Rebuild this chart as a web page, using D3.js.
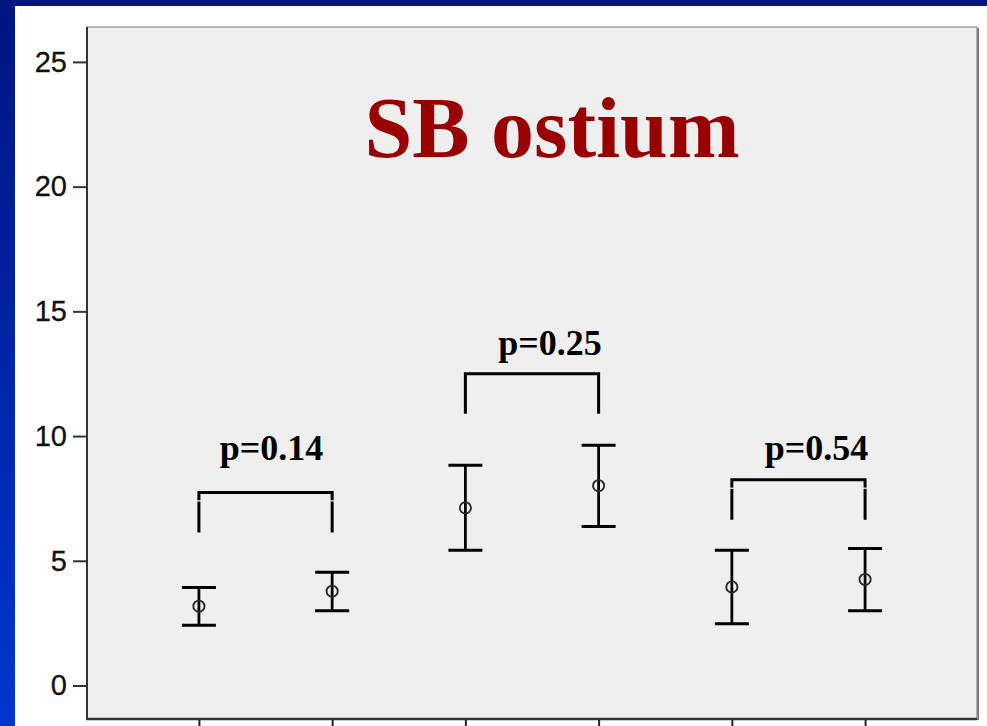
<!DOCTYPE html>
<html>
<head>
<meta charset="utf-8">
<script src="https://cdn.jsdelivr.net/npm/d3@7"></script>
<style>
  html, body { margin: 0; padding: 0; background: #ffffff; }
  svg { display: block; }
</style>
</head>
<body>
<svg id="chart" width="987" height="726"></svg>
<script>
// Groups along the x axis (two measurements per comparison)
const categories = ["A1", "A2", "B1", "B2", "C1", "C2"];
// Mean and 95% CI bounds per group
const means = [3.18, 3.78, 7.12, 8.01, 3.95, 4.25];
const lower = [2.42, 3.00, 5.42, 6.37, 2.48, 3.00];
const upper = [3.93, 4.54, 8.83, 9.63, 5.42, 5.49];
const yTicks = [0, 5, 10, 15, 20, 25];

// Pairwise comparisons
const pairs = [["A1", "A2"], ["B1", "B2"], ["C1", "C2"]];
const pLabels = ["p=0.14", "p=0.25", "p=0.54"];
const bracketLevel = [7.74, 12.5, 8.25];
const labelLevel = [9.05, 13.26, 9.05];
const legBreak = [true, false, true];

const titleText = "SB ostium";

const svg = d3.select("#chart");
const W = 987, H = 726;

// Slide frame: navy top band and blue side band
const defs = svg.append("defs");
const grad = defs.append("linearGradient")
  .attr("id", "sideBand").attr("x1", 0).attr("y1", 0).attr("x2", 0).attr("y2", 1);
grad.append("stop").attr("offset", "0%").attr("stop-color", "#001580");
grad.append("stop").attr("offset", "100%").attr("stop-color", "#0036d0");
svg.append("rect").attr("x", 0).attr("y", 0).attr("width", 15).attr("height", H).attr("fill", "url(#sideBand)");
svg.append("rect").attr("x", 0).attr("y", 0).attr("width", W).attr("height", 6).attr("fill", "#001580");

// Plot panel
const panel = { left: 87, top: 27, right: 977, bottom: 719 };

const x = d3.scalePoint()
  .domain(categories)
  .range([panel.left, panel.right])
  .padding(0.84);

const y = d3.scaleLinear()
  .domain([-1.343, 26.40])
  .range([panel.bottom, panel.top]);

// Panel background with a grey frame and slight shadow on the right
svg.append("rect")
  .attr("x", panel.left + 2).attr("y", panel.top + 1)
  .attr("width", panel.right - panel.left).attr("height", panel.bottom - panel.top)
  .attr("fill", "#777");
svg.append("rect")
  .attr("x", panel.left).attr("y", panel.top)
  .attr("width", panel.right - panel.left).attr("height", panel.bottom - panel.top)
  .attr("fill", "#efefef")
  .attr("stroke", "#8a8a8a").attr("stroke-width", 1.2);

// Y axis
const yAxis = d3.axisLeft(y)
  .tickValues(yTicks)
  .tickSize(14)
  .tickPadding(6);
const gy = svg.append("g")
  .attr("transform", `translate(${panel.left},0)`)
  .call(yAxis);
gy.select(".domain").remove();
gy.selectAll(".tick line").attr("stroke", "#333").attr("stroke-width", 2);
gy.selectAll(".tick text")
  .attr("fill", "#111")
  .style("font-family", "'Liberation Sans', Arial, sans-serif")
  .style("font-size", "29px")
  .attr("stroke", "#111").attr("stroke-width", 0.3);
svg.append("line")
  .attr("x1", panel.left).attr("x2", panel.left)
  .attr("y1", panel.top).attr("y2", panel.bottom + 1)
  .attr("stroke", "#333").attr("stroke-width", 2);

// X axis: tick marks only
const xAxis = d3.axisBottom(x).tickSize(10).tickFormat("");
const gx = svg.append("g")
  .attr("transform", `translate(0,${panel.bottom})`)
  .call(xAxis);
gx.select(".domain").remove();
gx.selectAll(".tick line").attr("stroke", "#222").attr("stroke-width", 2);
svg.append("line")
  .attr("x1", panel.left - 1).attr("x2", panel.right)
  .attr("y1", panel.bottom).attr("y2", panel.bottom)
  .attr("stroke", "#333").attr("stroke-width", 2.5);

// Error bars
const capHalf = 17;
const bars = svg.append("g").selectAll("g")
  .data(categories.map((c, i) => ({ c, m: means[i], lo: lower[i], hi: upper[i] })))
  .join("g");
bars.append("line")
  .attr("x1", d => x(d.c)).attr("x2", d => x(d.c))
  .attr("y1", d => y(d.hi)).attr("y2", d => y(d.lo))
  .attr("stroke", "#000").attr("stroke-width", 2.8);
bars.append("line")
  .attr("x1", d => x(d.c) - capHalf).attr("x2", d => x(d.c) + capHalf)
  .attr("y1", d => y(d.hi)).attr("y2", d => y(d.hi))
  .attr("stroke", "#000").attr("stroke-width", 3);
bars.append("line")
  .attr("x1", d => x(d.c) - capHalf).attr("x2", d => x(d.c) + capHalf)
  .attr("y1", d => y(d.lo)).attr("y2", d => y(d.lo))
  .attr("stroke", "#000").attr("stroke-width", 3);
bars.append("circle")
  .attr("cx", d => x(d.c)).attr("cy", d => y(d.m))
  .attr("r", 5.6)
  .attr("fill", "none")
  .attr("stroke", "#2a2a2a").attr("stroke-width", 1.9);

// Comparison brackets with p-values
const legLen = 40;
const labelShift = [6, 18, 18];
pairs.forEach((p, i) => {
  const x0 = x(p[0]), x1 = x(p[1]);
  const yb = y(bracketLevel[i]);
  svg.append("path")
    .attr("d", `M${x0},${yb + legLen}V${yb}H${x1}V${yb + legLen}`)
    .attr("fill", "none")
    .attr("stroke", "#000").attr("stroke-width", 3)
    .attr("stroke-linejoin", "miter");
  if (legBreak[i]) {
    // thin break across both legs just below the bracket top
    [x0, x1].forEach(xx => {
      svg.append("line")
        .attr("x1", xx - 2).attr("x2", xx + 2)
        .attr("y1", yb + 8.5).attr("y2", yb + 8.5)
        .attr("stroke", "#ffffff").attr("stroke-width", 1.2);
    });
  }
  svg.append("text")
    .attr("x", (x0 + x1) / 2 + labelShift[i])
    .attr("y", y(labelLevel[i]))
    .attr("text-anchor", "middle")
    .style("font-family", "'Liberation Serif', 'Times New Roman', serif")
    .style("font-weight", "bold")
    .style("font-size", "36px")
    .attr("fill", "#000")
    .text(pLabels[i]);
});

// Title
svg.append("text")
  .attr("x", 552).attr("y", 157)
  .attr("text-anchor", "middle")
  .style("font-family", "'Liberation Serif', 'Times New Roman', serif")
  .style("font-weight", "bold")
  .style("font-size", "86px")
  .attr("fill", "#990000")
  .text(titleText);
</script>
</body>
</html>
